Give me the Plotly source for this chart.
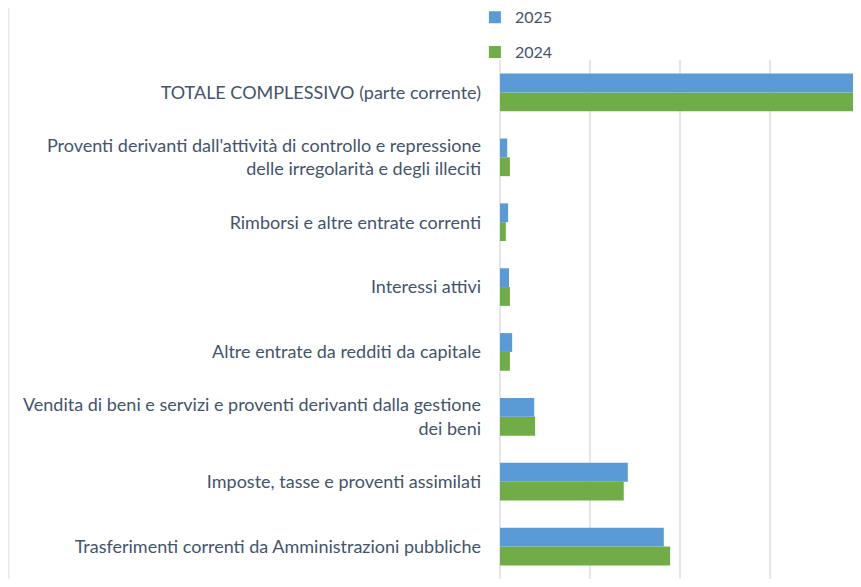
import plotly.graph_objects as go

# categories, bottom to top as they appear on the chart
categories = [
    'Trasferimenti correnti da Amministrazioni pubbliche',
    'Imposte, tasse e proventi assimilati',
    'Vendita di beni e servizi e proventi derivanti dalla gestione<br>dei beni',
    'Altre entrate da redditi da capitale',
    'Interessi attivi',
    'Rimborsi e altre entrate correnti',
    "Proventi derivanti dall'attività di controllo e repressione<br>delle irregolarità e degli illeciti",
    'TOTALE COMPLESSIVO (parte corrente)',
]

# values (gridline step = 10)
values_2025 = [18.2, 14.2, 3.8, 1.35, 1.0, 0.9, 0.8, 40.25]
values_2024 = [18.9, 13.75, 3.9, 1.1, 1.1, 0.65, 1.1, 40.55]

blue = '#5B9BD5'
green = '#70AD47'
text_color = '#44546A'

fig = go.Figure()
# 2024 first so it sits below 2025 inside each group
fig.add_trace(go.Bar(
    name='2024', y=categories, x=values_2024, orientation='h',
    marker=dict(color=green, line=dict(width=0)),
    legendgroup='a', legendrank=2,
))
fig.add_trace(go.Bar(
    name='2025', y=categories, x=values_2025, orientation='h',
    marker=dict(color=blue, line=dict(width=0)),
    legendgroup='b', legendrank=1,
))

fig.update_layout(
    width=861, height=571,
    margin=dict(l=492, r=0, t=52, b=0, autoexpand=False),
    paper_bgcolor='white', plot_bgcolor='white',
    barmode='group', bargap=0.42, bargroupgap=0,
    font=dict(family='Lato', size=18, color=text_color),
    legend=dict(
        x=-0.068, y=1.115, xanchor='left', yanchor='top',
        tracegroupgap=11, font=dict(size=16, color=text_color),
        itemwidth=30, bgcolor='rgba(0,0,0,0)',
    ),
    showlegend=True,
)
fig.update_xaxes(
    range=[0, 41], dtick=10, showticklabels=False,
    showgrid=True, gridcolor='#E3E6EA', gridwidth=2,
    zeroline=True, zerolinecolor='#E3E6EA', zerolinewidth=2,
    showline=False, fixedrange=True,
)
fig.update_yaxes(
    showgrid=False, showline=False, ticks='', ticklabelstandoff=18,
    tickfont=dict(size=18, color=text_color),
)
# chart-area border on the left edge
fig.add_shape(type='line', xref='paper', yref='paper',
              x0=-1.331, x1=-1.331, y0=-0.03, y1=1.12,
              line=dict(color='#DCE0E5', width=1))

fig.write_html('out.html')
